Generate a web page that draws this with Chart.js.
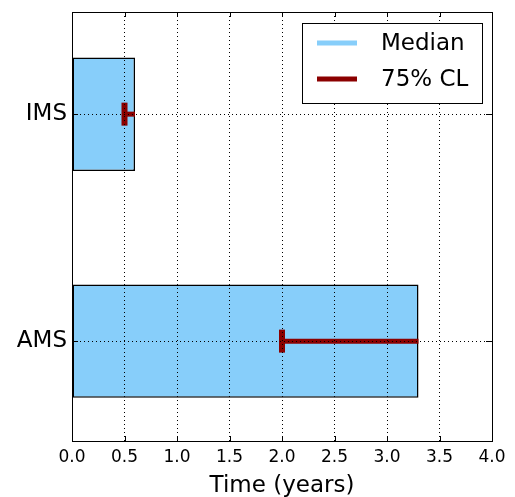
<!DOCTYPE html>
<html>
<head>
<meta charset="utf-8">
<script src="https://cdn.jsdelivr.net/npm/chart.js@4.4.0/dist/chart.umd.min.js"></script>
<style>
  html, body { margin: 0; padding: 0; background: #fff; }
</style>
</head>
<body>
<canvas id="chart" width="515" height="497"></canvas>
<script>
// data
const categories = ['IMS', 'AMS'];
const medianYears = [0.6, 3.3];
const clLowYears = [0.5, 2.0];
const clHighYears = [0.6, 3.3];
const legendLabels = ['Median', '75% CL'];
const xMin = 0;
const xMax = 4.0;
const xStep = 0.5;

const BAR_COLOR = '#87cefa';
const CL_COLOR = '#8b0000';
const FONT = "'DejaVu Sans', sans-serif";

Chart.defaults.color = '#000';
Chart.defaults.font.family = FONT;

// barh style: first category on top
const yOf = (i) => categories.length - 1 - i;

const errorBars = {
  id: 'errorBars',
  afterDatasetsDraw(chart) {
    const { ctx, scales: { x, y } } = chart;
    ctx.save();
    ctx.strokeStyle = CL_COLOR;
    ctx.lineCap = 'butt';
    clLowYears.forEach((lo, i) => {
      const py = y.getPixelForValue(yOf(i));
      const x1 = x.getPixelForValue(lo);
      const x2 = x.getPixelForValue(clHighYears[i]);
      ctx.lineWidth = 5;
      ctx.beginPath();
      ctx.moveTo(x1, py);
      ctx.lineTo(x2, py);
      ctx.stroke();
      ctx.lineWidth = 6;
      ctx.beginPath();
      ctx.moveTo(x1, py - 11.5);
      ctx.lineTo(x1, py + 11.5);
      ctx.stroke();
    });
    ctx.restore();
  },
};

const frameAndLegend = {
  id: 'frameAndLegend',
  afterDraw(chart) {
    const { ctx, chartArea: a, scales: { x, y } } = chart;
    ctx.save();
    ctx.strokeStyle = '#000';
    ctx.lineWidth = 1;
    // inward ticks on all four sides
    ctx.beginPath();
    x.ticks.forEach((t) => {
      const px = Math.round(x.getPixelForValue(t.value)) + 0.5;
      ctx.moveTo(px, a.bottom); ctx.lineTo(px, a.bottom - 5);
      ctx.moveTo(px, a.top); ctx.lineTo(px, a.top + 5);
    });
    y.ticks.forEach((t) => {
      const py = Math.round(y.getPixelForValue(t.value)) + 0.5;
      ctx.moveTo(a.left, py); ctx.lineTo(a.left + 6, py);
      ctx.moveTo(a.right, py); ctx.lineTo(a.right - 6, py);
    });
    ctx.stroke();
    ctx.strokeRect(Math.round(a.left) + 0.5, Math.round(a.top) + 0.5,
      Math.round(a.right - a.left), Math.round(a.bottom - a.top));

    // legend box, upper right inside the axes
    const bx = Math.round(a.right) - 190, by = Math.round(a.top) + 11;
    ctx.fillStyle = '#fff';
    ctx.fillRect(bx, by, 180, 80);
    ctx.strokeRect(bx + 0.5, by + 0.5, 180, 80);
    const colors = [BAR_COLOR, CL_COLOR];
    const rows = [by + 20, by + 56];
    ctx.font = '23px ' + FONT;
    ctx.textBaseline = 'middle';
    legendLabels.forEach((label, i) => {
      ctx.strokeStyle = colors[i];
      ctx.lineWidth = 5;
      ctx.beginPath();
      ctx.moveTo(bx + 15, rows[i]);
      ctx.lineTo(bx + 55, rows[i]);
      ctx.stroke();
      ctx.fillStyle = '#000';
      ctx.fillText(label, bx + 79, rows[i] + 1);
    });
    ctx.restore();
  },
};

new Chart(document.getElementById('chart'), {
  type: 'bar',
  data: {
    datasets: [{
      label: legendLabels[0],
      data: medianYears.map((v, i) => ({ x: v, y: yOf(i) })),
      backgroundColor: BAR_COLOR,
      borderColor: '#000',
      borderWidth: 1.5,
      borderSkipped: false,
      categoryPercentage: 1,
      barPercentage: 0.5,
    }],
  },
  options: {
    indexAxis: 'y',
    responsive: false,
    animation: false,
    devicePixelRatio: 1,
    layout: { padding: { left: 0, top: 12, right: 23, bottom: 0 } },
    plugins: { legend: { display: false }, tooltip: { enabled: false } },
    scales: {
      x: {
        type: 'linear',
        min: xMin,
        max: xMax,
        ticks: {
          stepSize: xStep,
          callback: (v) => v.toFixed(1),
          font: { size: 17 },
          padding: 6,
          maxRotation: 0,
          autoSkip: false,
        },
        grid: { color: '#000', lineWidth: 1, drawTicks: false, z: 1 },
        border: { display: false, dash: [1, 3] },
        title: { display: true, text: 'Time (years)', font: { size: 23 }, padding: { top: 0, bottom: -3 } },
        afterFit: (s) => { s.height = 56; s.paddingLeft = 0; s.paddingRight = 0; },
      },
      y: {
        type: 'linear',
        min: -0.44,
        max: 1.45,
        offset: false,
        afterBuildTicks: (s) => { s.ticks = categories.map((_, i) => ({ value: yOf(i) })); },
        ticks: {
          callback: (v) => categories[categories.length - 1 - v],
          font: { size: 23 },
          padding: 5,
        },
        grid: { color: '#000', lineWidth: 1, drawTicks: false, offset: false, z: 1 },
        border: { display: false, dash: [1, 3] },
        afterFit: (s) => { s.width = 72; s.paddingTop = 0; s.paddingBottom = 0; },
      },
    },
  },
  plugins: [errorBars, frameAndLegend],
});
</script>
</body>
</html>
